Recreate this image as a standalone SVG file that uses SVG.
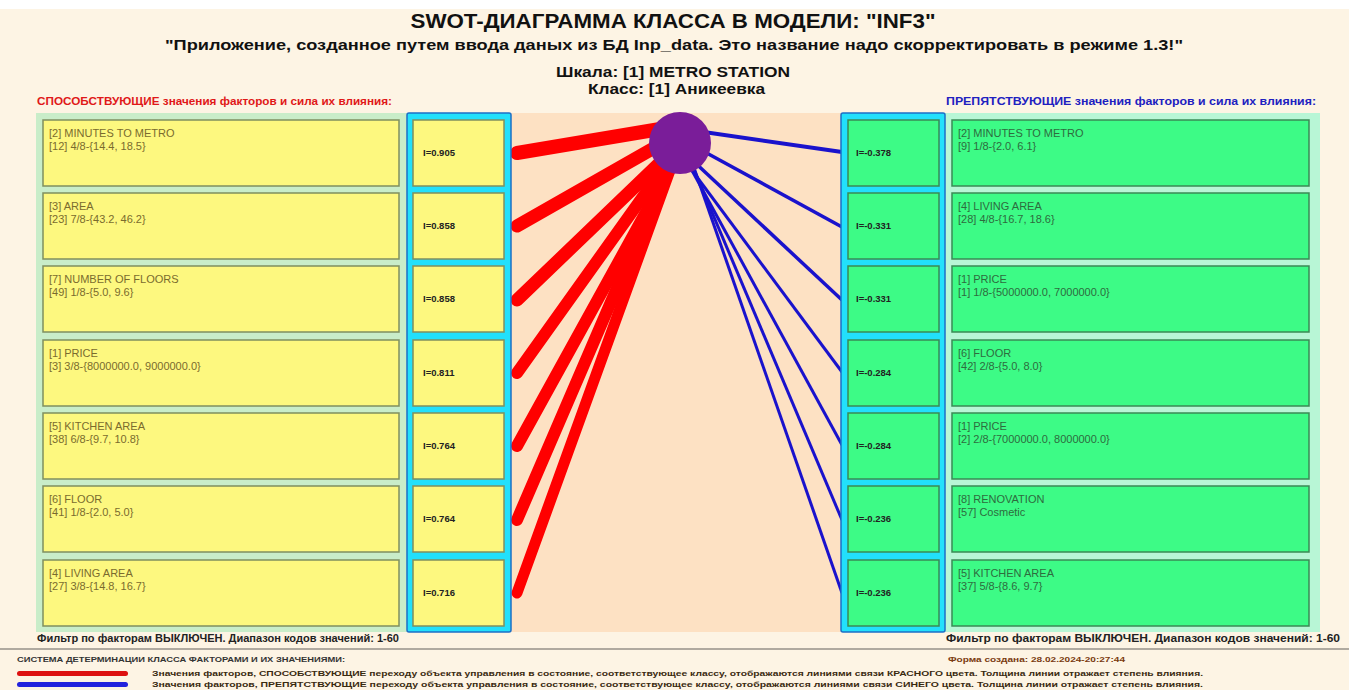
<svg xmlns="http://www.w3.org/2000/svg" width="1349" height="690" viewBox="0 0 1349 690">
<style>
.t{font-family:"Liberation Sans",Arial,sans-serif}
.ttl{font-weight:bold;fill:#111}
.lb{fill:#fdf87f;stroke:#7f8f5f;stroke-width:1.5}
.gb{fill:#3dfb86;stroke:#3a8a55;stroke-width:1.5}
.frame{fill:#22e0fb;stroke:#1d6fc6;stroke-width:1.5}
.lt{font-family:"Liberation Sans",Arial,sans-serif;font-size:11px;fill:#7a6b2e}
.rt{font-family:"Liberation Sans",Arial,sans-serif;font-size:11px;fill:#2e6b3e}
.val{font-family:"Liberation Sans",Arial,sans-serif;font-size:9.5px;font-weight:bold;fill:#222}
.red{stroke:#ff0000;fill:none;stroke-linecap:round}
.blue{stroke:#1a12cc;fill:none;stroke-linecap:butt}
.small{font-family:"Liberation Sans",Arial,sans-serif;font-size:7.5px;font-weight:bold}
</style>
<rect x="0" y="0" width="1349" height="690" fill="#fdf4e4"/>
<rect x="0" y="0" width="1349" height="9" fill="#ffffff"/>
<g id="titles">
<text class="t ttl" x="673" y="28" font-size="20" text-anchor="middle" textLength="525" lengthAdjust="spacingAndGlyphs">SWOT-ДИАГРАММА КЛАССА В МОДЕЛИ: "INF3"</text>
<text class="t ttl" x="165" y="50" font-size="15" textLength="1018" lengthAdjust="spacingAndGlyphs">"Приложение, созданное путем ввода даных из БД Inp_data. Это название надо скорректировать в режиме 1.3!"</text>
<text class="t ttl" x="556" y="77" font-size="15" textLength="234" lengthAdjust="spacingAndGlyphs">Шкала: [1] METRO STATION</text>
<text class="t ttl" x="588" y="94" font-size="15" textLength="177" lengthAdjust="spacingAndGlyphs">Класс: [1] Аникеевка</text>
<text class="t" x="37" y="105" font-size="10" font-weight="bold" fill="#e01818" textLength="355" lengthAdjust="spacingAndGlyphs">СПОСОБСТВУЮЩИЕ значения факторов и сила их влияния:</text>
<text class="t" x="946" y="105" font-size="10" font-weight="bold" fill="#2020c0" textLength="370" lengthAdjust="spacingAndGlyphs">ПРЕПЯТСТВУЮЩИЕ значения факторов и сила их влияния:</text>
</g>
<rect x="36" y="113" width="372" height="519" fill="#c9edc9"/>
<rect x="944" y="113" width="376" height="519" fill="#b8f6d6"/>
<rect x="511" y="113" width="331" height="519" fill="#fde1c3"/>
<g id="connectors">
<line class="red" x1="517" y1="153" x2="672" y2="127" stroke-width="14"/>
<line class="red" x1="517" y1="226" x2="668" y2="140" stroke-width="13"/>
<line class="red" x1="517" y1="300" x2="668" y2="155" stroke-width="13"/>
<line class="red" x1="517" y1="373" x2="667" y2="163" stroke-width="12"/>
<line class="red" x1="517" y1="446" x2="672" y2="165" stroke-width="12"/>
<line class="red" x1="517" y1="520" x2="670" y2="165" stroke-width="12"/>
<line class="red" x1="517" y1="593" x2="672" y2="165" stroke-width="11"/>
<line class="blue" x1="842" y1="152" x2="690" y2="130" stroke-width="4"/>
<line class="blue" x1="842" y1="227" x2="692" y2="145" stroke-width="3.5"/>
<line class="blue" x1="842" y1="300" x2="690" y2="158" stroke-width="3.5"/>
<line class="blue" x1="842" y1="372" x2="688" y2="165" stroke-width="3"/>
<line class="blue" x1="842" y1="445" x2="689" y2="165" stroke-width="3"/>
<line class="blue" x1="842" y1="520" x2="692" y2="165" stroke-width="3"/>
<line class="blue" x1="842" y1="593" x2="693" y2="165" stroke-width="3"/>
</g>
<rect class="frame" x="407" y="113" width="104" height="519" rx="2"/>
<rect class="frame" x="841" y="113" width="104" height="519" rx="2"/>
<g id="class-node"><circle cx="680" cy="143" r="31" fill="#7a1d99"/></g>
<g id="left-1"><rect class="lb" x="43" y="120" width="356" height="66"/><text class="lt" x="49" y="137">[2] MINUTES TO METRO</text><text class="lt" x="49" y="150">[12] 4/8-{14.4, 18.5}</text><rect class="lb" x="413" y="120" width="91" height="66"/><text class="val" x="423" y="156">I=0.905</text></g>
<g id="left-2"><rect class="lb" x="43" y="193" width="356" height="66"/><text class="lt" x="49" y="210">[3] AREA</text><text class="lt" x="49" y="223">[23] 7/8-{43.2, 46.2}</text><rect class="lb" x="413" y="193" width="91" height="66"/><text class="val" x="423" y="229">I=0.858</text></g>
<g id="left-3"><rect class="lb" x="43" y="266" width="356" height="66"/><text class="lt" x="49" y="283">[7] NUMBER OF FLOORS</text><text class="lt" x="49" y="296">[49] 1/8-{5.0, 9.6}</text><rect class="lb" x="413" y="266" width="91" height="66"/><text class="val" x="423" y="302">I=0.858</text></g>
<g id="left-4"><rect class="lb" x="43" y="340" width="356" height="66"/><text class="lt" x="49" y="357">[1] PRICE</text><text class="lt" x="49" y="370">[3] 3/8-{8000000.0, 9000000.0}</text><rect class="lb" x="413" y="340" width="91" height="66"/><text class="val" x="423" y="376">I=0.811</text></g>
<g id="left-5"><rect class="lb" x="43" y="413" width="356" height="66"/><text class="lt" x="49" y="430">[5] KITCHEN AREA</text><text class="lt" x="49" y="443">[38] 6/8-{9.7, 10.8}</text><rect class="lb" x="413" y="413" width="91" height="66"/><text class="val" x="423" y="449">I=0.764</text></g>
<g id="left-6"><rect class="lb" x="43" y="486" width="356" height="66"/><text class="lt" x="49" y="503">[6] FLOOR</text><text class="lt" x="49" y="516">[41] 1/8-{2.0, 5.0}</text><rect class="lb" x="413" y="486" width="91" height="66"/><text class="val" x="423" y="522">I=0.764</text></g>
<g id="left-7"><rect class="lb" x="43" y="560" width="356" height="66"/><text class="lt" x="49" y="577">[4] LIVING AREA</text><text class="lt" x="49" y="590">[27] 3/8-{14.8, 16.7}</text><rect class="lb" x="413" y="560" width="91" height="66"/><text class="val" x="423" y="596">I=0.716</text></g>
<g id="right-1"><rect class="gb" x="848" y="120" width="91" height="66"/><text class="val" x="856" y="156">I=-0.378</text><rect class="gb" x="952" y="120" width="357" height="66"/><text class="rt" x="958" y="137">[2] MINUTES TO METRO</text><text class="rt" x="958" y="150">[9] 1/8-{2.0, 6.1}</text></g>
<g id="right-2"><rect class="gb" x="848" y="193" width="91" height="66"/><text class="val" x="856" y="229">I=-0.331</text><rect class="gb" x="952" y="193" width="357" height="66"/><text class="rt" x="958" y="210">[4] LIVING AREA</text><text class="rt" x="958" y="223">[28] 4/8-{16.7, 18.6}</text></g>
<g id="right-3"><rect class="gb" x="848" y="266" width="91" height="66"/><text class="val" x="856" y="302">I=-0.331</text><rect class="gb" x="952" y="266" width="357" height="66"/><text class="rt" x="958" y="283">[1] PRICE</text><text class="rt" x="958" y="296">[1] 1/8-{5000000.0, 7000000.0}</text></g>
<g id="right-4"><rect class="gb" x="848" y="340" width="91" height="66"/><text class="val" x="856" y="376">I=-0.284</text><rect class="gb" x="952" y="340" width="357" height="66"/><text class="rt" x="958" y="357">[6] FLOOR</text><text class="rt" x="958" y="370">[42] 2/8-{5.0, 8.0}</text></g>
<g id="right-5"><rect class="gb" x="848" y="413" width="91" height="66"/><text class="val" x="856" y="449">I=-0.284</text><rect class="gb" x="952" y="413" width="357" height="66"/><text class="rt" x="958" y="430">[1] PRICE</text><text class="rt" x="958" y="443">[2] 2/8-{7000000.0, 8000000.0}</text></g>
<g id="right-6"><rect class="gb" x="848" y="486" width="91" height="66"/><text class="val" x="856" y="522">I=-0.236</text><rect class="gb" x="952" y="486" width="357" height="66"/><text class="rt" x="958" y="503">[8] RENOVATION</text><text class="rt" x="958" y="516">[57] Cosmetic</text></g>
<g id="right-7"><rect class="gb" x="848" y="560" width="91" height="66"/><text class="val" x="856" y="596">I=-0.236</text><rect class="gb" x="952" y="560" width="357" height="66"/><text class="rt" x="958" y="577">[5] KITCHEN AREA</text><text class="rt" x="958" y="590">[37] 5/8-{8.6, 9.7}</text></g>
<g id="footer">
<text class="t" x="37" y="642" font-size="11" font-weight="bold" fill="#222" textLength="362" lengthAdjust="spacingAndGlyphs">Фильтр по факторам ВЫКЛЮЧЕН. Диапазон кодов значений: 1-60</text>
<text class="t" x="946" y="642" font-size="11" font-weight="bold" fill="#222" textLength="394" lengthAdjust="spacingAndGlyphs">Фильтр по факторам ВЫКЛЮЧЕН. Диапазон кодов значений: 1-60</text>
<line x1="0" y1="649" x2="1349" y2="649" stroke="#b0aaa0" stroke-width="2"/>
<text class="small" x="17" y="662" fill="#333" textLength="328" lengthAdjust="spacingAndGlyphs">СИСТЕМА ДЕТЕРМИНАЦИИ КЛАССА ФАКТОРАМИ И ИХ ЗНАЧЕНИЯМИ:</text>
<text class="small" x="948" y="662" fill="#7a3a10" textLength="177" lengthAdjust="spacingAndGlyphs">Форма создана: 28.02.2024-20:27:44</text>
<rect x="17" y="671" width="111" height="5" rx="2.5" fill="#dd1111"/>
<text class="small" x="152" y="676" fill="#3a2a10" textLength="1051" lengthAdjust="spacingAndGlyphs">Значения факторов, СПОСОБСТВУЮЩИЕ переходу объекта управления в состояние, соответствующее классу, отображаются линиями связи КРАСНОГО цвета. Толщина линии отражает степень влияния.</text>
<rect x="17" y="682" width="111" height="5" rx="2.5" fill="#2222dd"/>
<text class="small" x="152" y="687" fill="#3a2a10" textLength="1051" lengthAdjust="spacingAndGlyphs">Значения факторов, ПРЕПЯТСТВУЮЩИЕ переходу объекта управления в состояние, соответствующее классу, отображаются линиями связи СИНЕГО цвета. Толщина линии отражает степень влияния.</text>
</g>
</svg>
